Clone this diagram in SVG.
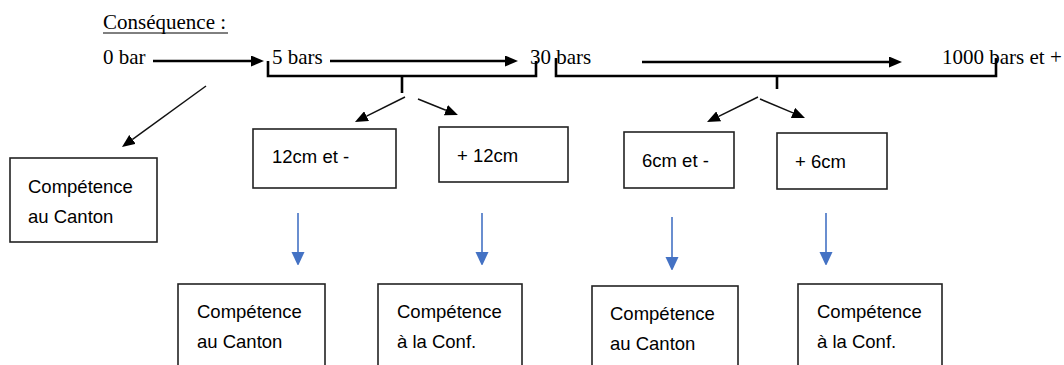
<svg xmlns="http://www.w3.org/2000/svg" width="1064" height="365" viewBox="0 0 1064 365">
<style>
.serif{font-family:"Liberation Serif","Times New Roman",serif;font-size:21px;fill:#000}
.sans{font-family:"Liberation Sans",Arial,sans-serif;font-size:18.5px;fill:#000}
.box{fill:#fff;stroke:#222;stroke-width:1.6}
.thick{stroke:#000;stroke-width:2.6;fill:none}
.thin{stroke:#111;stroke-width:1.5;fill:none}
.blue{stroke:#4472C4;stroke-width:1.6;fill:none}
</style>
<defs>
<marker id="ah" markerUnits="userSpaceOnUse" markerWidth="13" markerHeight="11" refX="0" refY="5.5" orient="auto">
<path d="M0,0 L13,5.5 L0,11 z" fill="#000"/>
</marker>
<marker id="bh" markerUnits="userSpaceOnUse" markerWidth="13" markerHeight="14" refX="0" refY="6.5" orient="auto">
<path d="M0,0 L14,6.5 L0,13 z" fill="#4472C4"/>
</marker>
</defs>
<g id="title">
<text class="serif" x="103" y="29">Conséquence :</text>
<line x1="103" y1="33" x2="228" y2="33" stroke="#000" stroke-width="1"/>
</g>
<g id="scale">
<text class="serif" x="103" y="64">0 bar</text>
<text class="serif" x="272" y="64">5 bars</text>
<text class="serif" x="530" y="64">30 bars</text>
<text class="serif" x="942" y="64">1000 bars et +</text>
</g>
<g id="connectors">
<line class="thick" x1="153" y1="61" x2="251" y2="61" marker-end="url(#ah)"/>
<line class="thick" x1="330" y1="61" x2="505" y2="61" marker-end="url(#ah)"/>
<line class="thick" x1="642" y1="62" x2="889" y2="62" marker-end="url(#ah)"/>
<polyline class="thick" points="268,61 268,76 536,76 536,61"/>
<line class="thick" x1="402" y1="76" x2="402" y2="93"/>
<polyline class="thick" points="556,58 556,76 996,76 996,58"/>
<line class="thick" x1="777" y1="76" x2="777" y2="89"/>
<line class="thin" x1="206" y1="86" x2="132.5" y2="139.4" marker-end="url(#ah)"/>
<line class="thin" x1="405" y1="97" x2="366.6" y2="116.2" marker-end="url(#ah)"/>
<line class="thin" x1="418" y1="99" x2="445.9" y2="110.2" marker-end="url(#ah)"/>
<line class="thin" x1="758" y1="97" x2="718.7" y2="116.3" marker-end="url(#ah)"/>
<line class="thin" x1="760" y1="99" x2="793" y2="112.9" marker-end="url(#ah)"/>
<line class="blue" x1="298" y1="213" x2="298" y2="252" marker-end="url(#bh)"/>
<line class="blue" x1="482" y1="213" x2="482" y2="252" marker-end="url(#bh)"/>
<line class="blue" x1="672" y1="217" x2="672" y2="257" marker-end="url(#bh)"/>
<line class="blue" x1="826" y1="213" x2="826" y2="252" marker-end="url(#bh)"/>
</g>
<g id="boxA">
<rect class="box" x="10" y="158" width="147" height="84"/>
<text class="sans" x="28" y="193">Compétence</text>
<text class="sans" x="28" y="223">au Canton</text>
</g>
<g id="box12minus">
<rect class="box" x="253" y="129" width="143" height="59"/>
<text class="sans" x="272" y="163">12cm et -</text>
</g>
<g id="box12plus">
<rect class="box" x="439" y="127" width="129" height="55"/>
<text class="sans" x="457" y="162">+ 12cm</text>
</g>
<g id="box6minus">
<rect class="box" x="624" y="132" width="110" height="56"/>
<text class="sans" x="642" y="167">6cm et -</text>
</g>
<g id="box6plus">
<rect class="box" x="777" y="133" width="110" height="56"/>
<text class="sans" x="795" y="168">+ 6cm</text>
</g>
<g id="res1">
<rect class="box" x="178" y="284" width="147" height="100"/>
<text class="sans" x="197" y="318">Compétence</text>
<text class="sans" x="197" y="348">au Canton</text>
</g>
<g id="res2">
<rect class="box" x="378" y="284" width="144" height="100"/>
<text class="sans" x="397" y="318">Compétence</text>
<text class="sans" x="397" y="348">à la Conf.</text>
</g>
<g id="res3">
<rect class="box" x="592" y="286" width="146" height="100"/>
<text class="sans" x="610" y="320">Compétence</text>
<text class="sans" x="610" y="350">au Canton</text>
</g>
<g id="res4">
<rect class="box" x="798" y="284" width="144" height="100"/>
<text class="sans" x="817" y="318">Compétence</text>
<text class="sans" x="817" y="348">à la Conf.</text>
</g>
</svg>
